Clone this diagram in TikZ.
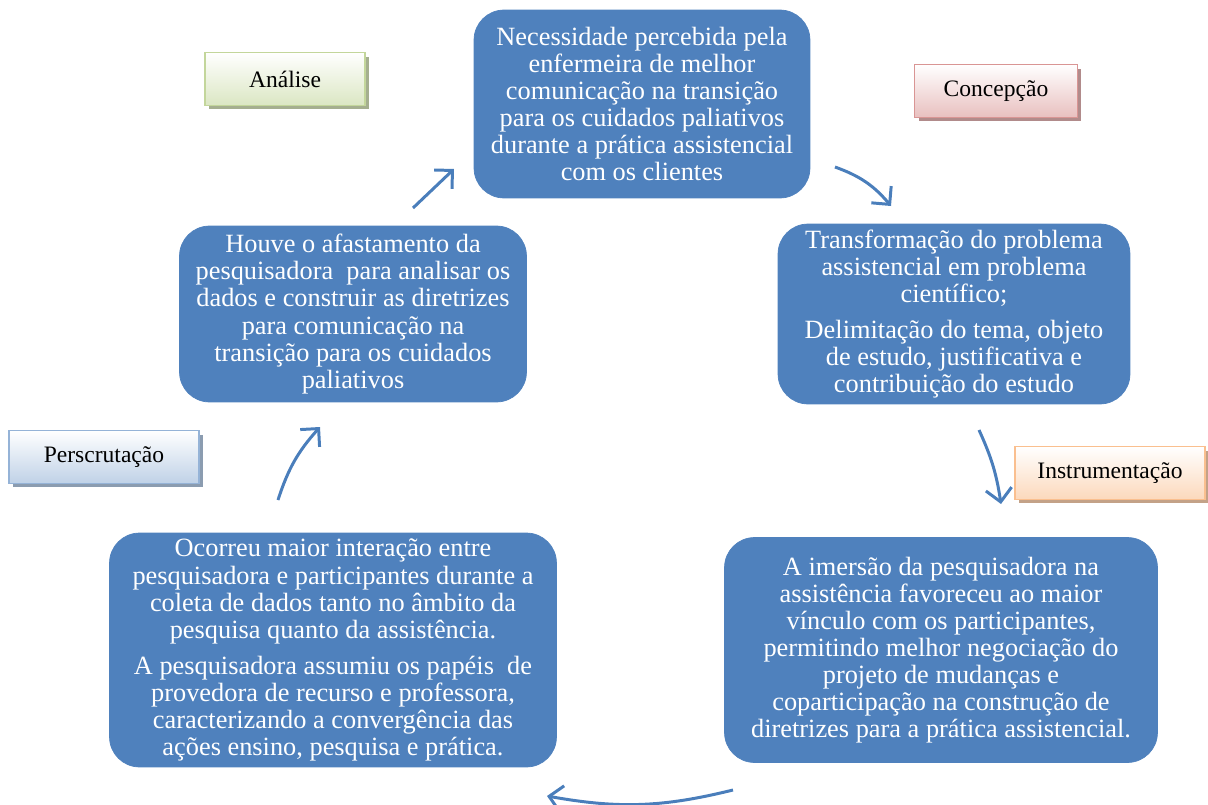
\documentclass[tikz,border=0pt]{standalone}
\usepackage{fontspec}
\setmainfont{Liberation Serif}
\usetikzlibrary{arrows.meta,shadows}

\definecolor{caixa}{HTML}{4F81BD}
\definecolor{seta}{HTML}{4A7EBB}
\definecolor{verde}{HTML}{C3D69B}
\definecolor{rosa}{HTML}{D99594}
\definecolor{azul}{HTML}{95B3D7}
\definecolor{laranja}{HTML}{FABF8F}
\tikzset{
  etapa/.style={rounded corners=0.6cm, fill=caixa, draw=caixa, text=white, align=center,
    font=\fontsize{15}{15.4}\selectfont},
  fase/.style={draw=#1, line width=1.1pt, shading=axis, top color=white, bottom color=#1!60,
    minimum height=1.06cm, align=center, font=\fontsize{13.4}{16}\selectfont,
    drop shadow={shadow xshift=0.08cm, shadow yshift=-0.08cm, fill=#1!55!gray, opacity=1}},
  ciclo/.style={draw=seta, line width=1.7pt, -{Straight Barb[length=2.6mm,width=5.2mm]}}
}

\begin{document}
\begin{tikzpicture}[x=0.02cm,y=-0.02cm]
			\useasboundingbox (0,0) rectangle (1208,805);
			% etapas do ciclo
			\node[etapa, minimum width=6.72cm, minimum height=3.76cm] (necessidade) at (642,104)
				{Necessidade percebida pela\\enfermeira de melhor\\comunicação na transição\\para os cuidados paliativos\\durante a prática assistencial\\com os clientes};
			\node[etapa, minimum width=7.04cm, minimum height=3.56cm] (problema) at (954,314)
				{Transformação do problema\\assistencial em problema\\científico;\\[5pt]Delimitação do tema, objeto\\de estudo, justificativa e\\contribuição do estudo};
			\node[etapa, minimum width=6.94cm, minimum height=3.52cm] (afastamento) at (353,314)
				{Houve o afastamento da\\pesquisadora \ para analisar os\\dados e construir as diretrizes\\para comunicação na\\transição para os cuidados\\paliativos};
			\node[etapa, minimum width=8.66cm, minimum height=4.5cm] (imersao) at (941,650)
				{A imersão da pesquisadora na\\assistência favoreceu ao maior\\vínculo com os participantes,\\permitindo melhor negociação do\\projeto de mudanças e\\coparticipação na construção de\\diretrizes para a prática assistencial.};
			\node[etapa, minimum width=8.94cm, minimum height=4.68cm] (interacao) at (333,650)
				{Ocorreu maior interação entre\\pesquisadora e participantes durante a\\coleta de dados tanto no âmbito da\\pesquisa quanto da assistência.\\[5pt]A pesquisadora assumiu os papéis \ de\\provedora de recurso e professora,\\caracterizando a convergência das\\ações ensino, pesquisa e prática.};
			% fases
			\node[fase=verde, minimum width=3.2cm] (analise) at (285,79) {Análise};
			\node[fase=rosa, minimum width=3.26cm] (concepcao) at (996,91) {Concepção};
			\node[fase=azul, minimum width=3.8cm] (perscrutacao) at (104,457) {Perscrutação};
			\node[fase=laranja, minimum width=3.8cm] (instrumentacao) at (1110,473) {Instrumentação};
			% setas
			\coordinate (s1) at (413,208); \coordinate (e1) at (454,169);
			\coordinate (s2) at (835,167); \coordinate (e2) at (891,206);
			\coordinate (s3) at (979,430); \coordinate (e3) at (1001,504);
			\coordinate (s4) at (733,790); \coordinate (e4) at (547,796);
			\coordinate (s5) at (278,500); \coordinate (e5) at (320,427);
			\draw[ciclo] (s1) -- (e1);
			\draw[ciclo] (s2) to[bend left=15] (e2);
			\draw[ciclo] (s3) to[bend left=8] (e3);
			\draw[ciclo] (s4) to[bend left=12] (e4);
			\draw[ciclo] (s5) to[bend left=12] (e5);
		\end{tikzpicture}
\end{document}
